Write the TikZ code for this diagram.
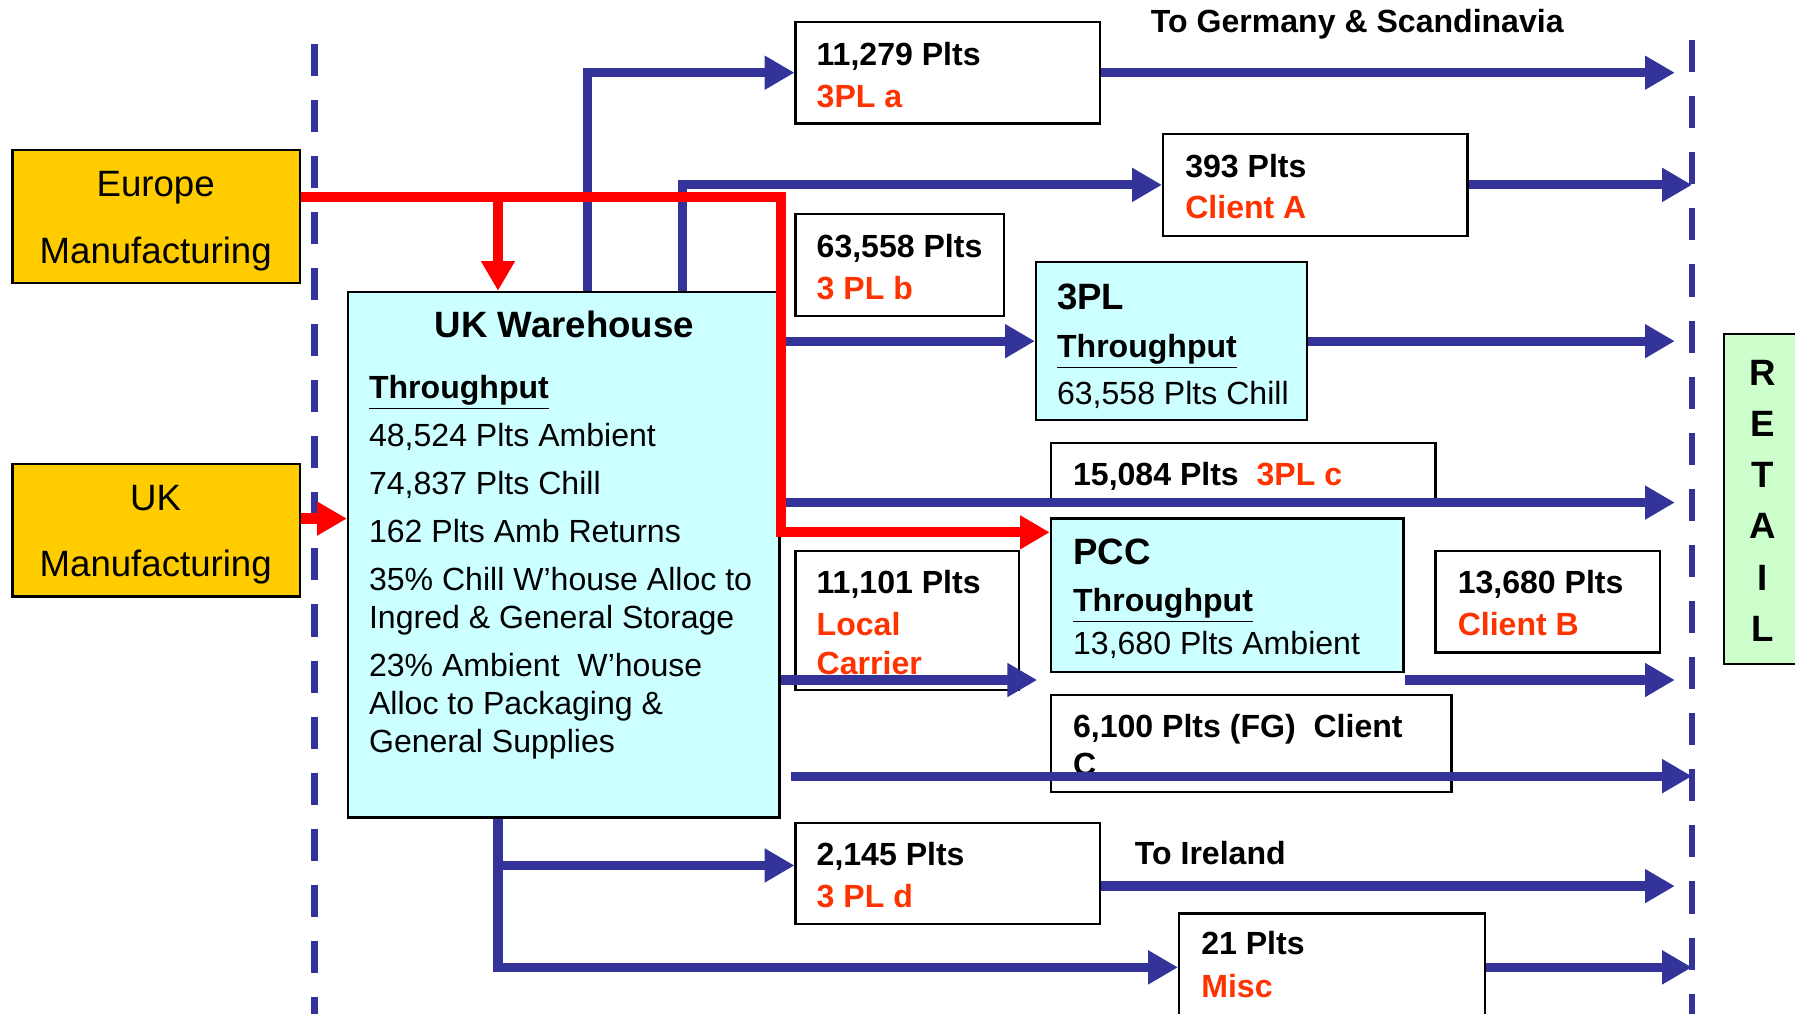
\documentclass[tikz,border=0pt]{standalone}
\usepackage{fontspec}
\setmainfont{Liberation Sans}
\usetikzlibrary{arrows.meta,calc,positioning,fit}
\definecolor{flowblue}{RGB}{51,51,153}
\definecolor{flowred}{RGB}{255,0,0}
\definecolor{tagred}{RGB}{255,51,0}
\definecolor{plantgold}{RGB}{255,204,0}
\definecolor{hubcyan}{RGB}{204,255,255}
\definecolor{retailgreen}{RGB}{204,255,204}

\begin{document}
\begin{tikzpicture}[x=0.5pt,y=-0.5pt,>={Triangle[length=13pt,width=14pt]},
 box/.style={draw=black,line width=1pt,fill=white,inner sep=0pt},
 flow/.style={->,draw=flowblue,line width=4pt},
 redflow/.style={->,draw=flowred,line width=4.5pt},
 border/.style={draw=flowblue,line width=3pt,dash pattern=on 14pt off 10.5pt},
 num/.style={anchor=base west,inner sep=0pt,font=\bfseries\fontsize{14}{16.5}\selectfont},
 tag/.style={num,text=tagred},
 body/.style={anchor=base west,inner sep=0pt,font=\fontsize{14}{16.5}\selectfont},
 head/.style={anchor=base west,inner sep=0pt,font=\bfseries\fontsize{16}{19}\selectfont},
 plant/.style={anchor=base,inner sep=0pt,font=\fontsize{16}{19}\selectfont}]
 \useasboundingbox (0,0) rectangle (1568,885);
 % retail borders
 \draw[border] (275,38)--(275,890);
 \draw[border] (1478,35)--(1478,890);
 \coordinate (rend) at (1463,0);
 \coordinate (rline) at (1478,0);
 % sources
 \node[box,fill=plantgold,fit={(11,131) (262,247)}] (eur) {};
 \node[plant] (eur-a) at (136,172) {Europe};
 \node[plant] (eur-b) at (136,230) {Manufacturing};
 \node[box,fill=plantgold,fit={(11,405) (262,521)}] (ukm) {};
 \node[plant] (ukm-a) at (136,446) {UK};
 \node[plant] (ukm-b) at (136,504) {Manufacturing};
 % warehouse
 \node[box,fill=hubcyan,fit={(304,255) (681,714)}] (wh) {};
 \node[head,anchor=base] (wh-head) at (493,295) {UK Warehouse};
 \node[body,align=left] (wh-txt) at (322,657) {\textbf{\underline{Throughput}}\\[4.5pt]
   48,524 Plts Ambient\\[4.5pt]
   74,837 Plts Chill\\[4.5pt]
   162 Plts Amb Returns\\[4.5pt]
   35\% Chill W’house Alloc to\\
   Ingred \& General Storage\\[4.5pt]
   23\% Ambient\ \ W’house\\
   Alloc to Packaging \&\\
   General Supplies};
 % destinations
 \node[box,fit={(695,19) (961,108)}] (pla) {};
 \node[num] (pla-n) at (713,57) {11,279 Plts};
 \node[tag] (pla-t) at (713,94) {3PL a};
 \node[box,fit={(1016,117) (1282,206)}] (cla) {};
 \node[num] (cla-n) at (1035,155) {393 Plts};
 \node[tag] (cla-t) at (1035,191) {Client A};
 \node[box,fit={(695,187) (877,276)}] (plb) {};
 \node[num] (plb-n) at (713,225) {63,558 Plts};
 \node[tag] (plb-t) at (713,262) {3 PL b};
 \node[box,fill=hubcyan,fit={(905,229) (1142,367)}] (tpl) {};
 \node[head] (tpl-h) at (923,270) {3PL};
 \node[num] (tpl-u) at (923,312) {\underline{Throughput}};
 \node[body] (tpl-n) at (923,353) {63,558 Plts Chill};
 \node[box,fit={(918,387) (1254,438)}] (plc) {};
 \node[num] (plc-n) at (937,424) {15,084 Plts\ \ \textcolor{tagred}{3PL c}};
 \node[box,fill=hubcyan,fit={(918,453) (1226,587)}] (pcc) {};
 \node[head] (pcc-h) at (937,493) {PCC};
 \node[num] (pcc-u) at (937,534) {\underline{Throughput}};
 \node[body] (pcc-n) at (937,572) {13,680 Plts Ambient};
 \node[box,fit={(695,481) (890,603)}] (loc) {};
 \node[num] (loc-n) at (713,518) {11,101 Plts};
 \node[tag] (loc-a) at (713,555) {Local};
 \node[tag] (loc-b) at (713,589) {Carrier};
 \node[box,fit={(1254,481) (1450,570)}] (clb) {};
 \node[num] (clb-n) at (1273,518) {13,680 Plts};
 \node[tag] (clb-t) at (1273,555) {Client B};
 \node[box,fit={(918,607) (1268,692)}] (clc) {};
 \node[num] (clc-a) at (937,644) {6,100 Plts (FG)\ \ Client};
 \node[num] (clc-b) at (937,677) {C};
 \node[box,fit={(695,719) (961,807)}] (pld) {};
 \node[num] (pld-n) at (713,756) {2,145 Plts};
 \node[tag] (pld-t) at (713,793) {3 PL d};
 \node[box,fit={(1030,798) (1297,892)}] (misc) {};
 \node[num] (misc-n) at (1049,834) {21 Plts};
 \node[tag] (misc-t) at (1049,871) {Misc};
 \node[num] (ger) at (1005,28) {To Germany \& Scandinavia};
 \node[num] (ire) at (991,755) {To Ireland};
 \node[box,fill=retailgreen,fit={(1506,292) (1590,580)}] (rtl) {};
 \node[head,anchor=base,align=center,font=\bfseries\fontsize{16}{22.3}\selectfont] (rtl-t) at (1540,560) {R\\E\\T\\A\\I\\L};
 % blue flows
 \coordinate (wh-down) at ($(wh.south west)+(132,0)$);
 \coordinate (loc-out) at ($(loc.south east)+(15,-10)$);
 \coordinate (pcc-out) at ($(pcc.south east)+(0,6)$);
 \coordinate (fg-in) at ($(wh.east |- clc.south)+(9,-15)$);
 \draw[flow] ($(wh.north west)+(210,0)$) |- (pla.west);
 \draw[flow] (pla.east) -- (pla.east -| rend);
 \draw[flow] ($(wh.north west)+(293,0)$) |- (cla.west);
 \draw[flow] (cla.east) -- (cla.east -| rline);
 \draw[flow] (wh.east |- tpl.west) -- (tpl.west);
 \draw[flow] (tpl.east) -- (tpl.east -| rend);
 \draw[flow] (wh.east |- plc.south) -- (plc.south -| rend);
 \draw[flow] (wh.east |- loc-out) -- (loc-out);
 \draw[flow] (pcc-out) -- (pcc-out -| rend);
 \draw[flow] (fg-in) -- (fg-in -| rline);
 \draw[flow] (wh-down) |- (misc.west);
 \draw[flow] ($(wh-down |- pld.west)+(0,-7)$) -- ($(pld.west)+(0,-7)$);
 \draw[flow] ($(pld.east)+(0,11)$) -- ($(pld.east -| rend)+(0,11)$);
 \draw[flow] (misc.east) -- (misc.east -| rline);
 % red flows
 \coordinate (eur-out) at ($(eur.north east)+(0,42)$);
 \coordinate (wh-in) at ($(wh.north west)+(132,0)$);
 \coordinate (pcc-in) at ($(pcc.north west)+(0,13)$);
 \draw[redflow] (eur-out) -| (wh.east |- pcc-in) -- (pcc-in);
 \draw[redflow] (wh-in |- eur-out) -- (wh-in);
 \draw[redflow] ($(ukm.east)+(0,-10)$) -- ($(ukm.east -| wh.west)+(0,-10)$);
\end{tikzpicture}
\end{document}
